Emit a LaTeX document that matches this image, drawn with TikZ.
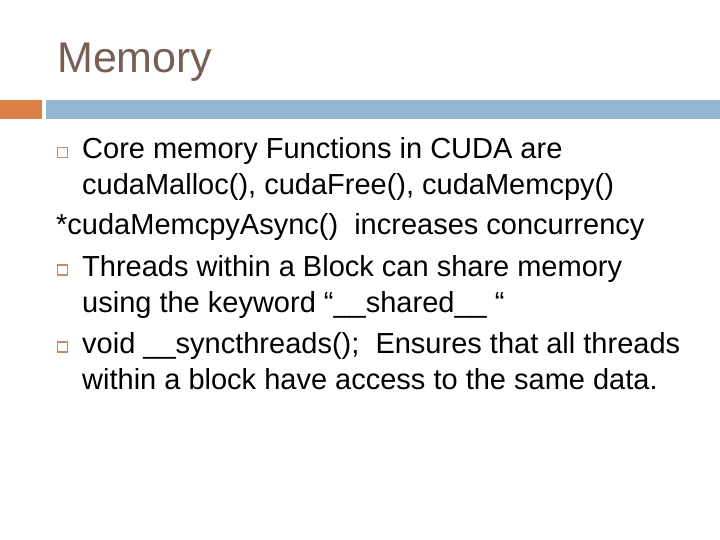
\documentclass[tikz,border=0pt]{standalone}
\usepackage{fontspec}
\setmainfont{Liberation Sans}
\definecolor{titlebrown}{HTML}{775F55}
\definecolor{barblue}{HTML}{94B6D2}
\definecolor{barorange}{HTML}{DD8047}
\definecolor{bulletbrown}{RGB}{196,140,104}

\begin{document}
\begin{tikzpicture}[x=1pt, y=-1pt,
    txt/.style={anchor=base west, inner sep=0pt, font=\fontsize{29}{35}\selectfont},
    bulletbox/.style={draw=bulletbrown, line width=1.6pt, minimum size=10pt, inner sep=0pt}]
\useasboundingbox (0,0) rectangle (720,540);
% title and bar
\node[name=title, anchor=base west, inner sep=0pt, text=titlebrown, font=\fontsize{43}{50}\selectfont] at (57,73) {Memory};
\fill[barorange] (0,100) rectangle (42,119);
\fill[barblue] (46,100) rectangle (720,119);
% bullets
\node[name=b1, bulletbox] at (62.5,152.5) {};
\node[name=b2, bulletbox] at (62.5,270) {};
\node[name=b3, bulletbox] at (62.5,347) {};
% text lines
\node[name=l1, txt] at (82,159) {Core memory Functions in CUDA are};
\node[name=l2, txt] at (82,195) {cudaMalloc(), cudaFree(), cudaMemcpy()};
\node[name=l3, txt] at (56,234) {*cudaMemcpyAsync()\ \ increases concurrency};
\node[name=l4, txt] at (82,276) {Threads within a Block can share memory};
\node[name=l5, txt] at (82,312) {using the keyword “\_\_shared\_\_ “};
\node[name=l6, txt] at (82,353) {void \_\_syncthreads();\ \ Ensures that all threads};
\node[name=l7, txt] at (82,389) {within a block have access to the same data.};
\end{tikzpicture}
\end{document}
